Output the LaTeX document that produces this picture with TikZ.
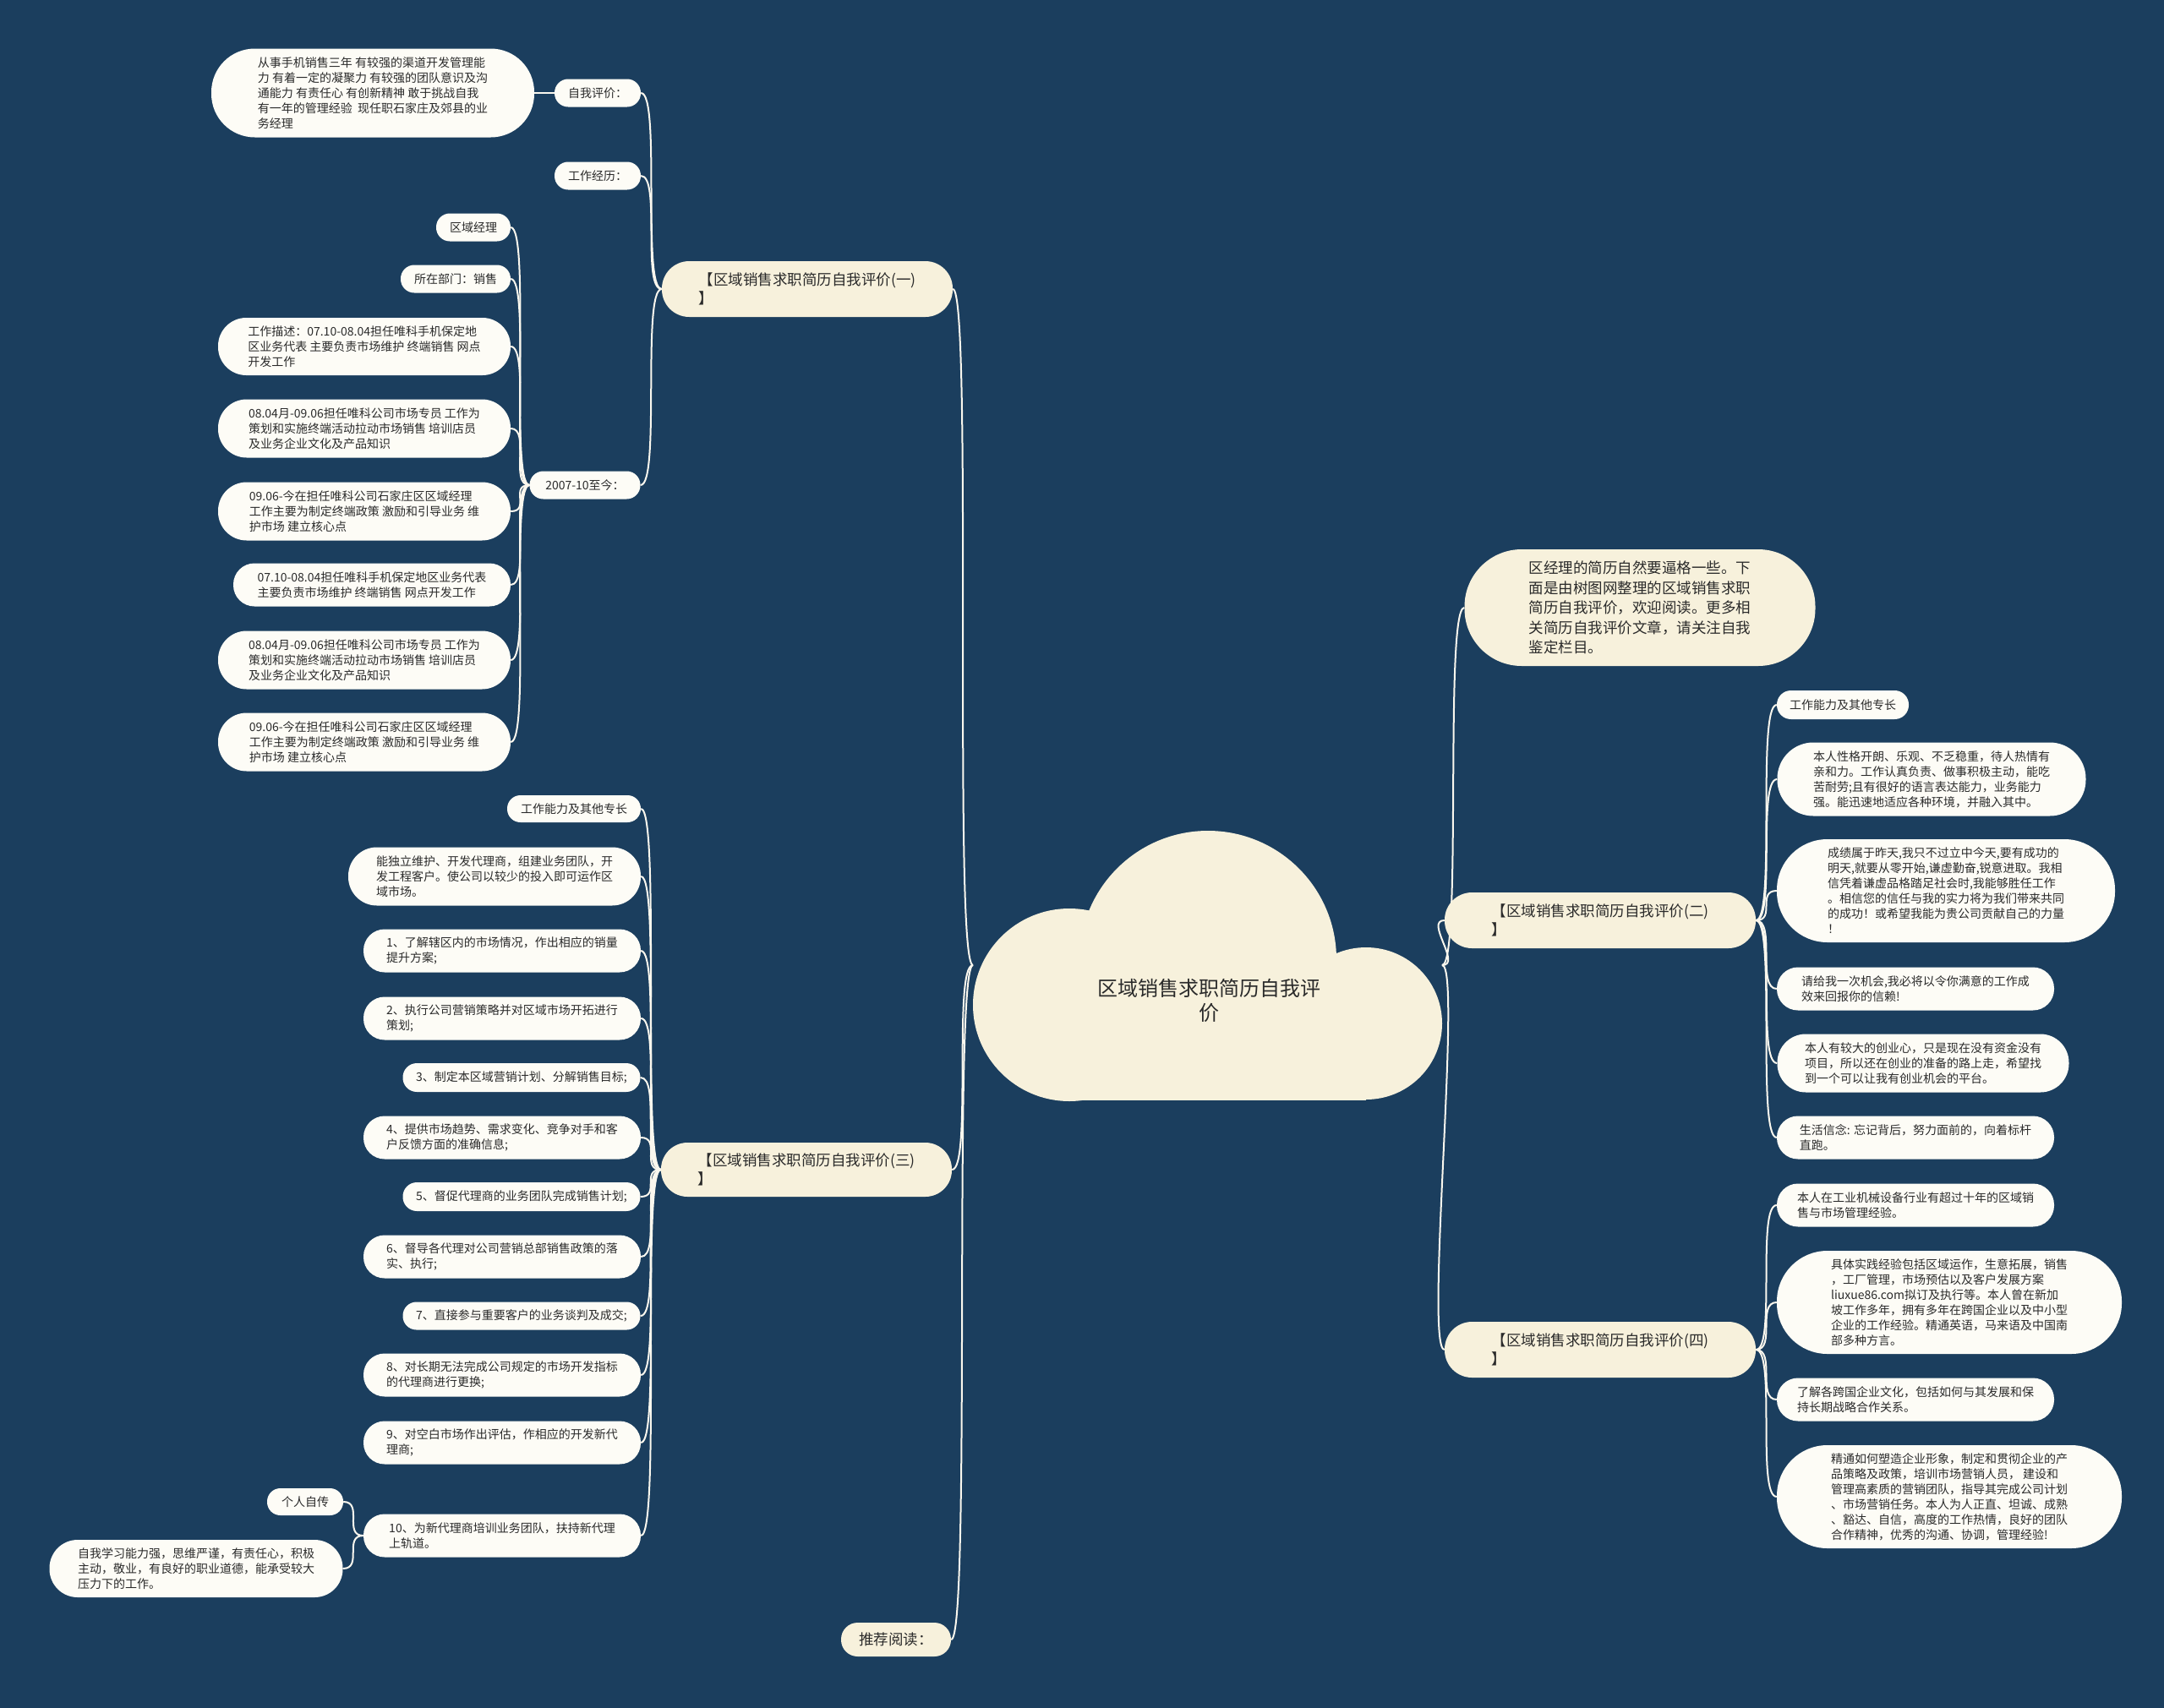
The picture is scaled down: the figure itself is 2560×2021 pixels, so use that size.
\documentclass[tikz,border=0pt]{standalone}
\usepackage{fontspec}
\usepackage{tikz}
\usetikzlibrary{backgrounds}
\newfontfamily\cjkfont{Noto Sans CJK SC}
\definecolor{mmnavy}{HTML}{1B3E5E}
\definecolor{mmcream}{HTML}{F7F1DC}
\definecolor{mmleaf}{HTML}{FDFCF6}
\definecolor{mmink}{HTML}{2A2A2A}
\definecolor{mmline}{HTML}{FAF7EE}

\begin{document}
\begin{tikzpicture}[
  x=1pt, y=-1pt,
  leaf/.style={fill=mmleaf, text=mmink, align=left, inner sep=0pt,
               font=\cjkfont\fontsize{14}{18}\selectfont},
  hub/.style={fill=mmcream, text=mmink, align=left, inner sep=0pt,
              font=\cjkfont\fontsize{17.5}{22}\selectfont},
  rootlbl/.style={text=mmink, align=center, inner sep=0pt,
                  font=\cjkfont\fontsize{24}{29}\selectfont},
  pill/.style 2 args={minimum width=#1pt, minimum height=#2pt, rounded corners=#2*0.49pt},
  lnkL/.style={draw=mmline, line width=2pt, to path={.. controls +(-24,0) and +(24,0) .. (\tikztotarget)}},
  lnkR/.style={draw=mmline, line width=2pt, to path={.. controls +(24,0) and +(-24,0) .. (\tikztotarget)}}
]

\begin{scope}[on background layer]
  \fill[mmnavy] (0,0) rectangle (2560,2021);
\end{scope}

% ── Central cloud ─────────────────────────────────────────────
\fill[mmcream] (1429,1135) circle[radius=152pt];
\fill[mmcream] (1265,1189) circle[radius=114pt];
\fill[mmcream] (1616,1211) circle[radius=90pt];
\fill[mmcream] (1265,1135) rectangle (1616,1302);
\node[rootlbl] (root) at (1430,1184) {区域销售求职简历自我评\\价};
\coordinate (rootW) at (1151,1142);
\coordinate (rootE) at (1706,1142);

% ── Branch (一) ───────────────────────────────────────────────
\node[hub, pill={344}{66}] (hub1) at (955,342) {【区域销售求职简历自我评价(一)\\】};
\node[leaf, pill={102}{33}] (selfq) at (707,110) {自我评价：};
\node[leaf, pill={382}{105}] (selftxt) at (441,110) {从事手机销售三年 有较强的渠道开发管理能\\力 有着一定的凝聚力 有较强的团队意识及沟\\通能力 有责任心 有创新精神 敢于挑战自我\\有一年的管理经验~ 现任职石家庄及郊县的业\\务经理};
\node[leaf, pill={102}{33}] (workq) at (707,208) {工作经历：};
\node[leaf, pill={131}{33}] (since) at (692,574) {2007-10至今：};
\node[leaf, pill={88}{33}] (s1) at (560,269) {区域经理};
\node[leaf, pill={130}{33}] (s2) at (539,330) {所在部门：销售};
\node[leaf, pill={346}{68}] (s3) at (431,410) {工作描述：07.10-08.04担任唯科手机保定地\\区业务代表 主要负责市场维护 终端销售 网点\\开发工作};
\node[leaf, pill={346}{69}] (s4) at (431,507) {08.04月-09.06担任唯科公司市场专员 工作为\\策划和实施终端活动拉动市场销售 培训店员\\及业务企业文化及产品知识};
\node[leaf, pill={346}{69}] (s5) at (431,605) {09.06-今在担任唯科公司石家庄区区域经理\\工作主要为制定终端政策 激励和引导业务 维\\护市场 建立核心点};
\node[leaf, pill={328}{51}] (s6) at (440,692) {07.10-08.04担任唯科手机保定地区业务代表\\主要负责市场维护 终端销售 网点开发工作};
\node[leaf, pill={346}{69}] (s7) at (431,781) {08.04月-09.06担任唯科公司市场专员 工作为\\策划和实施终端活动拉动市场销售 培训店员\\及业务企业文化及产品知识};
\node[leaf, pill={346}{69}] (s8) at (431,878) {09.06-今在担任唯科公司石家庄区区域经理\\工作主要为制定终端政策 激励和引导业务 维\\护市场 建立核心点};

% ── Branch (三) ───────────────────────────────────────────────
\node[hub, pill={344}{64}] (hub3) at (954,1384) {【区域销售求职简历自我评价(三)\\】};
\node[leaf, pill={158}{32}] (t0) at (679,957) {工作能力及其他专长};
\node[leaf, pill={346}{69}] (t1) at (585,1037) {能独立维护、开发代理商，组建业务团队，开\\发工程客户。使公司以较少的投入即可运作区\\域市场。};
\node[leaf, pill={328}{51}] (t2) at (594,1125) {1、了解辖区内的市场情况，作出相应的销量\\提升方案;};
\node[leaf, pill={328}{51}] (t3) at (594,1205) {2、执行公司营销策略并对区域市场开拓进行\\策划;};
\node[leaf, pill={281}{34}] (t4) at (617,1275) {3、制定本区域营销计划、分解销售目标;};
\node[leaf, pill={328}{51}] (t5) at (594,1346) {4、提供市场趋势、需求变化、竞争对手和客\\户反馈方面的准确信息;};
\node[leaf, pill={281}{34}] (t6) at (617,1416) {5、督促代理商的业务团队完成销售计划;};
\node[leaf, pill={328}{51}] (t7) at (594,1487) {6、督导各代理对公司营销总部销售政策的落\\实、执行;};
\node[leaf, pill={281}{33}] (t8) at (617,1557) {7、直接参与重要客户的业务谈判及成交;};
\node[leaf, pill={328}{51}] (t9) at (594,1627) {8、对长期无法完成公司规定的市场开发指标\\的代理商进行更换;};
\node[leaf, pill={328}{51}] (t10) at (594,1707) {9、对空白市场作出评估，作相应的开发新代\\理商;};
\node[leaf, pill={328}{51}] (t11) at (594,1817) {10、为新代理商培训业务团队，扶持新代理\\上轨道。};
\node[leaf, pill={90}{32}] (t12) at (361,1777) {个人自传};
\node[leaf, pill={347}{68}] (t13) at (232,1856) {自我学习能力强，思维严谨，有责任心，积极\\主动，敬业，有良好的职业道德，能承受较大\\压力下的工作。};
\node[hub, pill={130}{40}] (read) at (1060,1940) {推荐阅读：};

% ── Intro ─────────────────────────────────────────────────────
\node[hub, pill={415}{138}, font=\cjkfont\fontsize{17.5}{23.5}\selectfont] (intro) at (1940,719) {区经理的简历自然要逼格一些。下\\面是由树图网整理的区域销售求职\\简历自我评价，欢迎阅读。更多相\\关简历自我评价文章，请关注自我\\鉴定栏目。};

% ── Branch (二) ───────────────────────────────────────────────
\node[hub, pill={368}{66}] (hub2) at (1893,1089) {【区域销售求职简历自我评价(二)\\】};
\node[leaf, pill={156}{34}] (u0) at (2180,834) {工作能力及其他专长};
\node[leaf, pill={365}{87}] (u1) at (2285,922) {本人性格开朗、乐观、不乏稳重，待人热情有\\亲和力。工作认真负责、做事积极主动，能吃\\苦耐劳;且有很好的语言表达能力，业务能力\\强。能迅速地适应各种环境，并融入其中。};
\node[leaf, pill={400}{122}] (u2) at (2302,1054) {成绩属于昨天,我只不过立中今天,要有成功的\\明天,就要从零开始,谦虚勤奋,锐意进取。我相\\信凭着谦虚品格踏足社会时,我能够胜任工作\\。相信您的信任与我的实力将为我们带来共同\\的成功！或希望我能为贵公司贡献自己的力量\\！};
\node[leaf, pill={328}{51}] (u3) at (2266,1170) {请给我一次机会,我必将以令你满意的工作成\\效来回报你的信赖!};
\node[leaf, pill={345}{69}] (u4) at (2275,1258) {本人有较大的创业心，只是现在没有资金没有\\项目，所以还在创业的准备的路上走，希望找\\到一个可以让我有创业机会的平台。};
\node[leaf, pill={328}{51}] (u5) at (2266,1346) {生活信念: 忘记背后，努力面前的，向着标杆\\直跑。};

% ── Branch (四) ───────────────────────────────────────────────
\node[hub, pill={368}{66}] (hub4) at (1893,1597) {【区域销售求职简历自我评价(四)\\】};
\node[leaf, pill={328}{51}] (v1) at (2266,1426) {本人在工业机械设备行业有超过十年的区域销\\售与市场管理经验。};
\node[leaf, pill={408}{122}] (v2) at (2306,1541) {具体实践经验包括区域运作，生意拓展，销售\\，工厂管理，市场预估以及客户发展方案\\liuxue86.com拟订及执行等。本人曾在新加\\坡工作多年，拥有多年在跨国企业以及中小型\\企业的工作经验。精通英语，马来语及中国南\\部多种方言。};
\node[leaf, pill={328}{51}] (v3) at (2266,1656) {了解各跨国企业文化，包括如何与其发展和保\\持长期战略合作关系。};
\node[leaf, pill={408}{122}] (v4) at (2306,1771) {精通如何塑造企业形象，制定和贯彻企业的产\\品策略及政策，培训市场营销人员，~建设和\\管理高素质的营销团队，指导其完成公司计划\\、市场营销任务。本人为人正直、坦诚、成熟\\、豁达、自信，高度的工作热情，良好的团队\\合作精神，优秀的沟通、协调，管理经验!};

% ── Links ─────────────────────────────────────────────────────
\begin{scope}[on background layer]
  \draw[lnkL] (rootW) to (hub1.east);
  \draw[lnkL] (rootW) to (hub3.east);
  \draw[lnkL] (rootW) to (read.east);
  \draw[lnkR] (rootE) to (intro.west);
  \draw[lnkR] (rootE) to (hub2.west);
  \draw[lnkR] (rootE) to (hub4.west);
  \draw[lnkL] (hub1.west) to (selfq.east);
  \draw[lnkL] (hub1.west) to (workq.east);
  \draw[lnkL] (hub1.west) to (since.east);
  \draw[lnkL] (selfq.west) to (selftxt.east);
  \draw[lnkL] (since.west) to (s1.east);
  \draw[lnkL] (since.west) to (s2.east);
  \draw[lnkL] (since.west) to (s3.east);
  \draw[lnkL] (since.west) to (s4.east);
  \draw[lnkL] (since.west) to (s5.east);
  \draw[lnkL] (since.west) to (s6.east);
  \draw[lnkL] (since.west) to (s7.east);
  \draw[lnkL] (since.west) to (s8.east);
  \draw[lnkL] (hub3.west) to (t0.east);
  \draw[lnkL] (hub3.west) to (t1.east);
  \draw[lnkL] (hub3.west) to (t2.east);
  \draw[lnkL] (hub3.west) to (t3.east);
  \draw[lnkL] (hub3.west) to (t4.east);
  \draw[lnkL] (hub3.west) to (t5.east);
  \draw[lnkL] (hub3.west) to (t6.east);
  \draw[lnkL] (hub3.west) to (t7.east);
  \draw[lnkL] (hub3.west) to (t8.east);
  \draw[lnkL] (hub3.west) to (t9.east);
  \draw[lnkL] (hub3.west) to (t10.east);
  \draw[lnkL] (hub3.west) to (t11.east);
  \draw[lnkL] (t11.west) to (t12.east);
  \draw[lnkL] (t11.west) to (t13.east);
  \draw[lnkR] (hub2.east) to (u0.west);
  \draw[lnkR] (hub2.east) to (u1.west);
  \draw[lnkR] (hub2.east) to (u2.west);
  \draw[lnkR] (hub2.east) to (u3.west);
  \draw[lnkR] (hub2.east) to (u4.west);
  \draw[lnkR] (hub2.east) to (u5.west);
  \draw[lnkR] (hub4.east) to (v1.west);
  \draw[lnkR] (hub4.east) to (v2.west);
  \draw[lnkR] (hub4.east) to (v3.west);
  \draw[lnkR] (hub4.east) to (v4.west);
\end{scope}
\end{tikzpicture}
\end{document}
